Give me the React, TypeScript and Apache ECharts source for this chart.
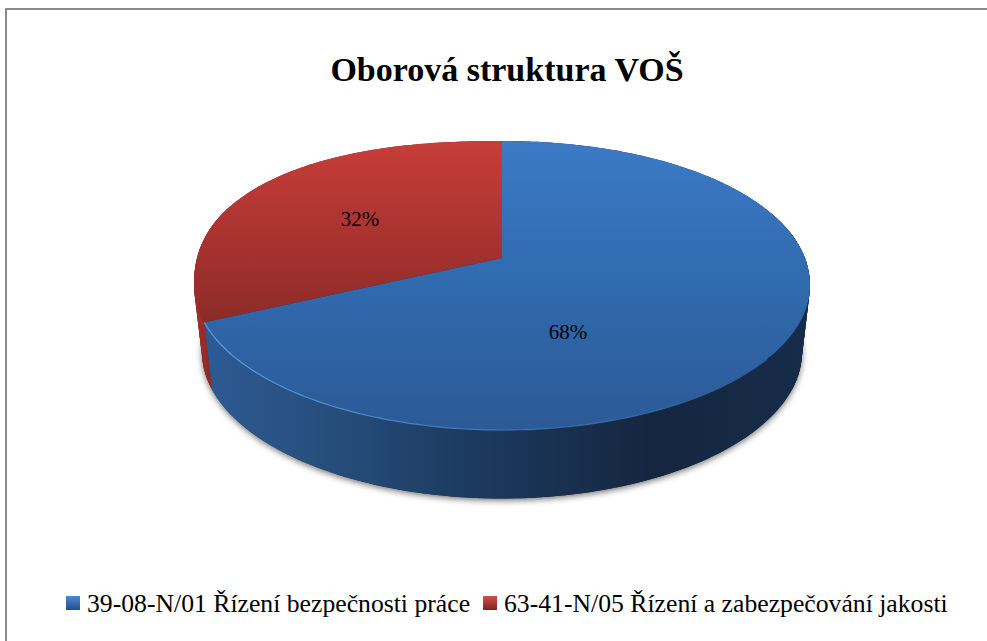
import React, { useEffect, useRef } from "react";
import * as echarts from "echarts";

const titleText = "Oborová struktura VOŠ";
const categories = ["39-08-N/01 Řízení bezpečnosti práce", "63-41-N/05 Řízení a zabezpečování jakosti"];
const shares = [68, 32];

const TOP = { cx: 502, cy: 285.5, rx: 308, ry: 144.5 };
const BOT = { cx: 502, cy: 352, rx: 300, ry: 146.5 };
const K = -0.19; // perspective shift of the pie centre on the top face
const SERIF = "'Liberation Serif', serif";

const lg = (x2: number, y2: number, stops: [number, string][]) =>
  new echarts.graphic.LinearGradient(0, 0, x2, y2, stops.map(([offset, color]) => ({ offset, color })));
const globalH = (x1: number, x2: number, stops: [number, string][]) =>
  new echarts.graphic.LinearGradient(x1, 0, x2, 0, stops.map(([offset, color]) => ({ offset, color })), true);

// share position (0..1, clockwise from 12 o'clock) -> point on an ellipse
function rimPoint(t: number, e: typeof TOP): [number, number] {
  const a = t * Math.PI * 2;
  const u = Math.sin(a);
  const v = -Math.cos(a);
  const d = 1 + K * v;
  const x = e.cx + e.rx * (u * Math.sqrt(1 - K * K)) / d;
  let y = e.cy + e.ry * (v + K) / d;
  if (e === TOP && y < e.cy) {
    // the far rim of the reference bulges a little, mostly on its left
    const n = x < e.cx ? 2.3 : 2.05;
    const nx = Math.min(1, Math.abs(x - e.cx) / e.rx);
    y = e.cy - e.ry * Math.pow(1 - Math.pow(nx, n), 1 / n);
  }
  return [x, y];
}
function arc(from: number, to: number, e: typeof TOP) {
  const n = Math.max(8, Math.ceil((to - from) * 360));
  const pts: [number, number][] = [];
  for (let i = 0; i <= n; i++) pts.push(rimPoint(from + ((to - from) * i) / n, e));
  return pts;
}

const total = shares.reduce((a, b) => a + b, 0);
const apex: [number, number] = [TOP.cx, TOP.cy + TOP.ry * K];

const faceFill = [
  [[0, "#3c7ac6"], [0.5, "#306aae"], [1, "#2b5a96"]],
  [[0, "#c83d39"], [1, "#8c2b28"]],
] as [number, string][][];
const sideFill = [
  [[0, "#2d5a94"], [0.18, "#27507f"], [0.45, "#1c3a60"], [0.75, "#15263f"], [1, "#172c4a"]],
  [[0, "#a52f2b"], [1, "#8a2724"]],
] as [number, string][][];
const legendFill = [
  [[0, "#4b8ad2"], [1, "#234f86"]],
  [[0, "#d0504a"], [1, "#7f2320"]],
] as [number, string][][];
const labelPos: [number, number][] = [[568, 332], [360, 219]];
const silhouetteBands: [number, number][] = [[0.2, 0.32], [0.68, 0.8]];

function sliceRender(idx: number) {
  return () => {
    const start = shares.slice(0, idx).reduce((a, b) => a + b, 0) / total;
    const end = start + shares[idx] / total;
    const topArc = arc(start, end, TOP);
    const botArc = arc(start, end, BOT);
    const sideColor = idx === 0 ? globalH(205, 802, sideFill[0]) : globalH(194, 215, sideFill[1]);
    const children: any[] = [];
    if (idx === 1) {
      children.push({
        type: "polygon",
        shape: { points: arc(0, 1, BOT) },
        style: {
          fill: "#15263f",
          shadowColor: "rgba(0,0,0,0.55)",
          shadowBlur: 6,
          shadowOffsetY: 2,
        },
      });
    }
    children.push({
      type: "polygon",
      shape: { points: [...topArc, ...botArc.slice().reverse()] },
      style: { fill: sideColor },
    });
    // sweep the wall across the two flanks so its outline is tangent to both ellipses
    for (const [a, b] of silhouetteBands) {
      const from = Math.max(a, start);
      const to = Math.min(b, end);
      const steps = Math.ceil((to - from) * 200);
      for (let i = 0; i < steps; i++) {
        const t0 = from + ((to - from) * i) / steps;
        const t1 = Math.min(to, t0 + 0.012);
        children.push({
          type: "polygon",
          shape: { points: [rimPoint(t0, TOP), rimPoint(t1, TOP), rimPoint(t1, BOT), rimPoint(t0, BOT)] },
          style: { fill: sideColor },
        });
      }
    }
    children.push({
      type: "polygon",
      shape: { points: [apex, ...topArc] },
      style: { fill: lg(0, 1, faceFill[idx]) },
    });
    if (idx === 0) {
      children.push({
        type: "polyline",
        shape: { points: arc(0.36, end, TOP) },
        style: {
          fill: "none",
          lineWidth: 1.2,
          stroke: lg(1, 0, [[0, "#5c9ce2"], [0.5, "#3f78ba"], [1, "#2b5a96"]]),
        },
      });
    }
    children.push({
      type: "text",
      x: labelPos[idx][0],
      y: labelPos[idx][1],
      style: {
        text: `${Math.round((shares[idx] / total) * 100)}%`,
        fontFamily: SERIF,
        fontSize: 21,
        fill: "#000",
        align: "center",
        verticalAlign: "middle",
      },
    });
    return { type: "group", children };
  };
}

export default function App() {
  const ref = useRef<HTMLDivElement>(null);
  useEffect(() => {
    document.body.style.margin = "0";
    document.body.style.background = "#fff";
    const chart = echarts.init(ref.current!, undefined, { renderer: "svg" });
    chart.setOption({
      animation: false,
      backgroundColor: "#fff",
      title: {
        text: titleText,
        left: 502,
        top: 47,
        textAlign: "center",
        textStyle: { fontFamily: SERIF, fontWeight: "bold", fontSize: 34, color: "#000" },
      },
      legend: {
        show: true,
        left: 66,
        top: 590,
        padding: 0,
        itemWidth: 14,
        itemHeight: 14,
        itemGap: 13,
        icon: "rect",
        data: categories,
        textStyle: { fontFamily: SERIF, fontSize: 25.7, color: "#000", padding: [0, 0, 0, 2] },
      },
      graphic: [
        { type: "rect", shape: { x: 5, y: 8, width: 982, height: 2 }, style: { fill: "#8a8a8a" }, silent: true },
        { type: "rect", shape: { x: 5, y: 8, width: 2, height: 633 }, style: { fill: "#8a8a8a" }, silent: true },
      ],
      series: [1, 0].map((i) => ({
        type: "custom",
        name: categories[i],
        coordinateSystem: "none",
        data: [shares[i]],
        itemStyle: { color: lg(0, 1, legendFill[i]) },
        renderItem: sliceRender(i),
      })),
    });
    return () => chart.dispose();
  }, []);
  return <div ref={ref} style={{ width: 987, height: 641 }} />;
}
